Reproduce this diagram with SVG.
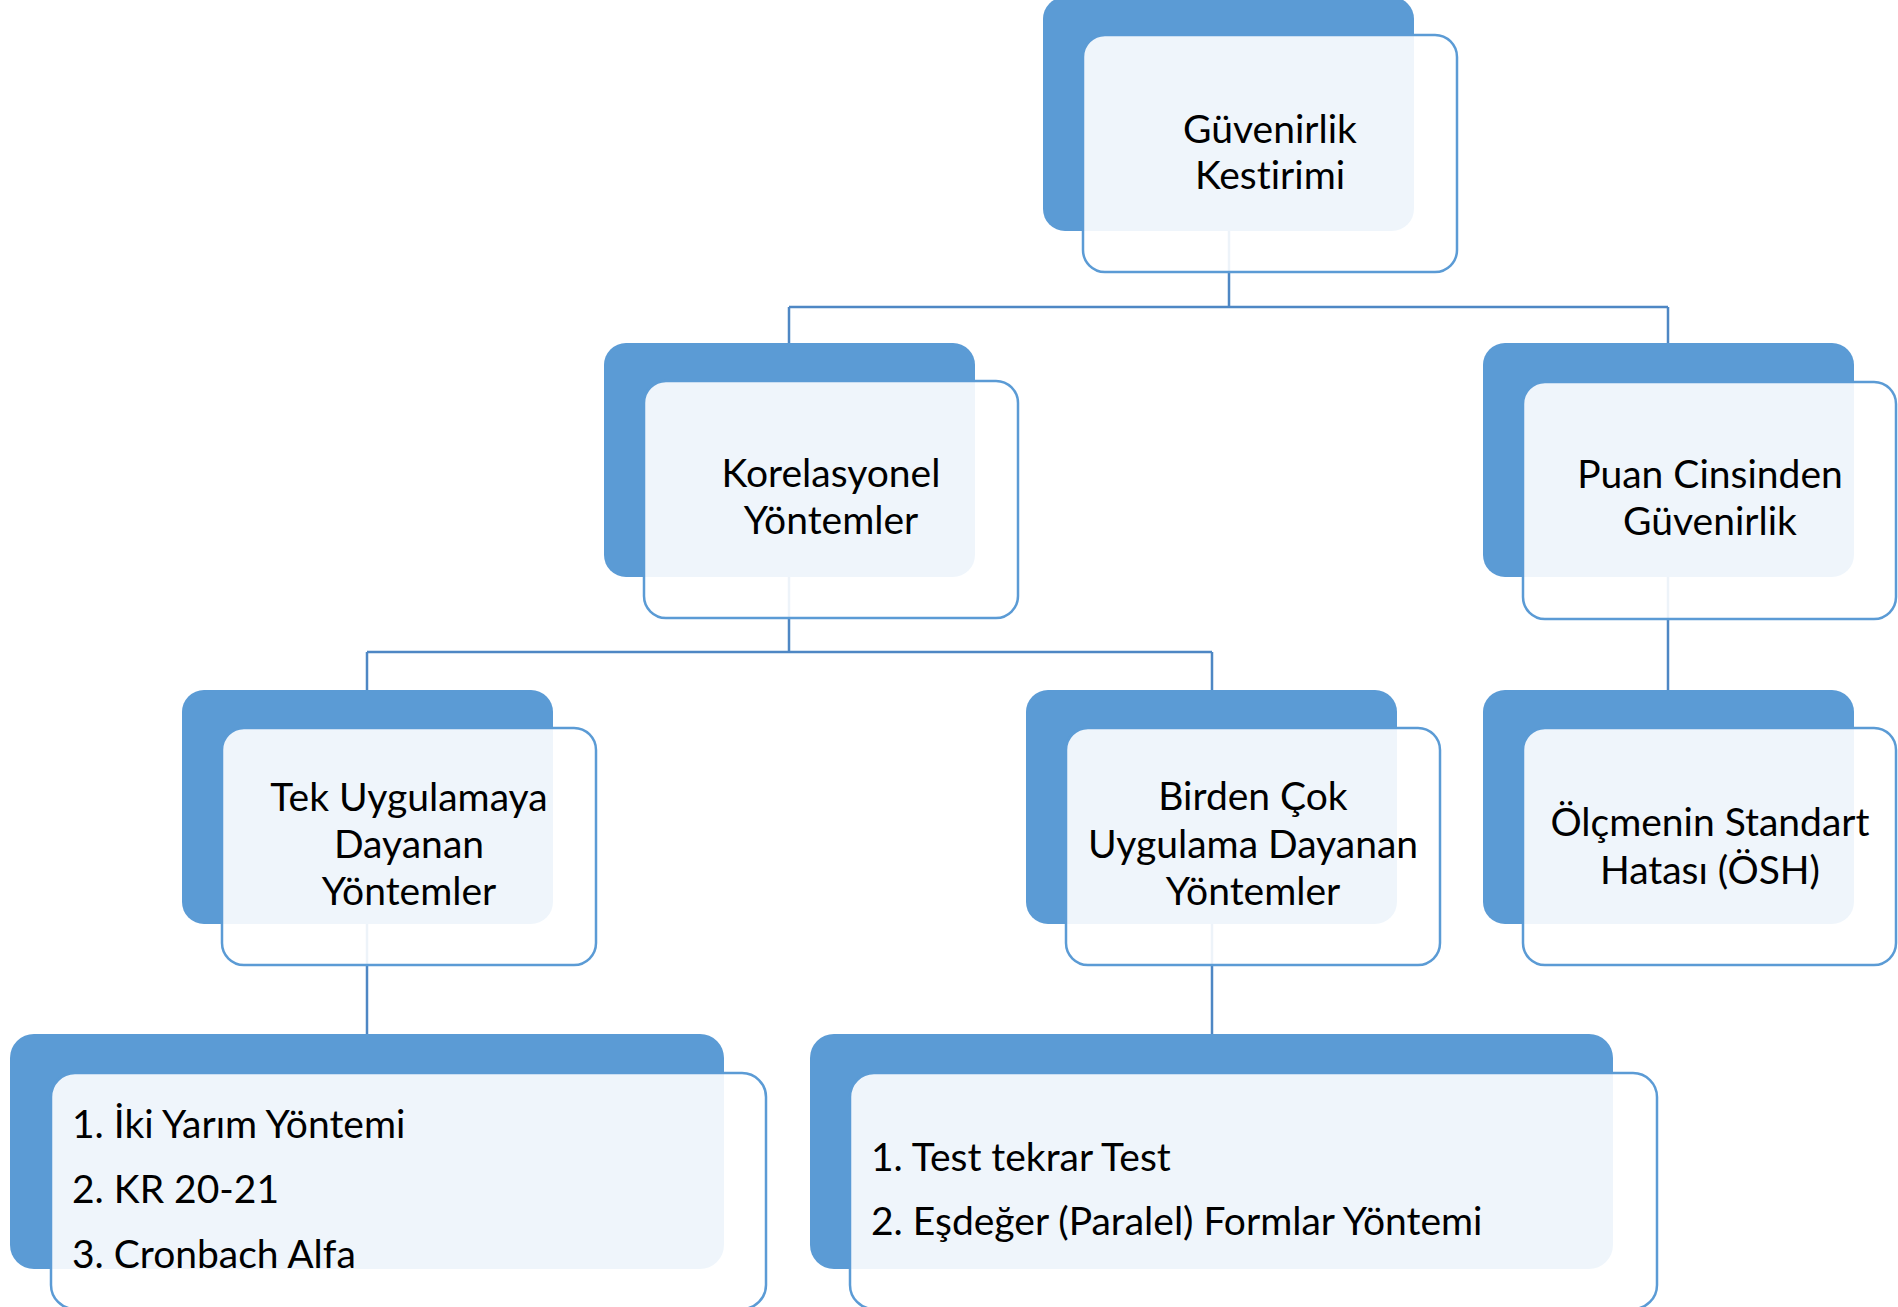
<svg xmlns="http://www.w3.org/2000/svg" width="1898" height="1307" viewBox="0 0 1898 1307">
<style>
.back{fill:#5B9BD5;}
.front{fill:#FFFFFF;fill-opacity:0.9;stroke:#5B9BD5;stroke-width:2.5;}
.conn{fill:none;stroke:#4E87C4;stroke-width:2.5;}
.t{font-family:Lato,"Liberation Sans",sans-serif;font-size:39px;fill:#000000;font-variant-ligatures:none;}
.c{text-anchor:middle;}
</style>
<rect width="1898" height="1307" fill="#FFFFFF"/>
<g id="connectors">
<path class="conn" d="M1229,231 V307 M789,307 H1668 M789,307 V343 M1668,307 V343"/>
<path class="conn" d="M789,577 V652 M367,652 H1212 M367,652 V690 M1212,652 V690"/>
<path class="conn" d="M1668,577 V692"/>
<path class="conn" d="M367,923 V1034"/>
<path class="conn" d="M1212,923 V1034"/>
</g>
<g id="node-guvenirlik-kestirimi">
<rect class="back" x="1043" y="-3" width="371" height="234" rx="22"/>
<rect class="front" x="1083" y="35" width="374" height="237" rx="22"/>
<text class="t c" x="1270" y="143">Güvenirlik</text>
<text class="t c" x="1270" y="189">Kestirimi</text>
</g>
<g id="node-korelasyonel">
<rect class="back" x="604" y="343" width="371" height="234" rx="22"/>
<rect class="front" x="644" y="381" width="374" height="237" rx="22"/>
<text class="t c" x="831" y="487">Korelasyonel</text>
<text class="t c" x="831" y="534">Yöntemler</text>
</g>
<g id="node-puan">
<rect class="back" x="1483" y="343" width="371" height="234" rx="22"/>
<rect class="front" x="1523" y="382" width="373" height="237" rx="22"/>
<text class="t c" x="1710" y="488">Puan Cinsinden</text>
<text class="t c" x="1710" y="535">Güvenirlik</text>
</g>
<g id="node-tek">
<rect class="back" x="182" y="690" width="371" height="234" rx="22"/>
<rect class="front" x="222" y="728" width="374" height="237" rx="22"/>
<text class="t c" x="409" y="811">Tek Uygulamaya</text>
<text class="t c" x="409" y="858">Dayanan</text>
<text class="t c" x="409" y="905">Yöntemler</text>
</g>
<g id="node-birden">
<rect class="back" x="1026" y="690" width="371" height="234" rx="22"/>
<rect class="front" x="1066" y="728" width="374" height="237" rx="22"/>
<text class="t c" x="1253" y="810">Birden Çok</text>
<text class="t c" x="1253" y="858">Uygulama Dayanan</text>
<text class="t c" x="1253" y="905">Yöntemler</text>
</g>
<g id="node-osh">
<rect class="back" x="1483" y="690" width="371" height="234" rx="22"/>
<rect class="front" x="1523" y="728" width="373" height="237" rx="22"/>
<text class="t c" x="1710" y="836">Ölçmenin Standart</text>
<text class="t c" x="1710" y="884">Hatası (ÖSH)</text>
</g>
<g id="node-tek-list">
<rect class="back" x="10" y="1034" width="714" height="235" rx="24"/>
<rect class="front" x="51" y="1073" width="715" height="236" rx="24"/>
<text class="t" x="72" y="1138">1. İki Yarım Yöntemi</text>
<text class="t" x="72" y="1203">2. KR 20-21</text>
<text class="t" x="72" y="1268">3. Cronbach Alfa</text>
</g>
<g id="node-birden-list">
<rect class="back" x="810" y="1034" width="803" height="235" rx="24"/>
<rect class="front" x="850" y="1073" width="807" height="236" rx="24"/>
<text class="t" x="871" y="1171">1. Test tekrar Test</text>
<text class="t" x="871" y="1235">2. Eşdeğer (Paralel) Formlar Yöntemi</text>
</g>
</svg>
